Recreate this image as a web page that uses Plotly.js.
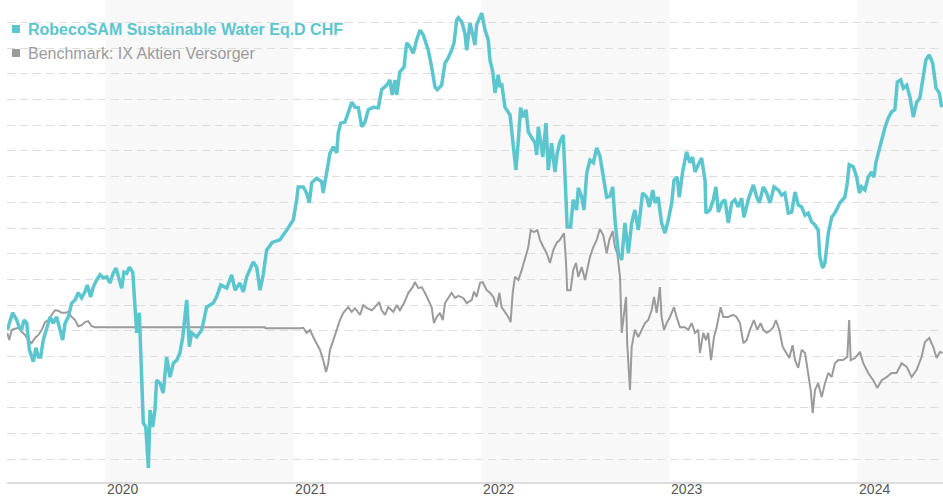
<!DOCTYPE html>
<html>
<head>
<meta charset="utf-8">
<script src="https://cdn.plot.ly/plotly-3.0.1.min.js"></script>
<style>
  html, body { margin: 0; padding: 0; background: #ffffff; }
  #chart { width: 943px; height: 500px; }
</style>
</head>
<body>
<div id="chart"></div>
<script>
// ---- data (performance in %, time as decimal year) ----
const fundName = "RobecoSAM Sustainable Water Eq.D CHF";
const benchName = "Benchmark: IX Aktien Versorger";

const fundDates = [
  2019.477,2019.505,2019.527,2019.540,2019.553,2019.565,2019.580,2019.594,2019.615,2019.629,
  2019.642,2019.654,2019.668,2019.686,2019.704,2019.721,2019.739,2019.757,2019.771,2019.784,
  2019.801,2019.819,2019.837,2019.854,2019.872,2019.890,2019.902,2019.920,2019.934,2019.952,
  2019.970,2019.987,2020.005,2020.023,2020.040,2020.055,2020.069,2020.085,2020.097,2020.112,
  2020.126,2020.144,2020.156,2020.165,2020.179,2020.191,2020.200,2020.213,2020.218,2020.227,
  2020.236,2020.250,2020.262,2020.271,2020.289,2020.306,2020.324,2020.342,2020.360,2020.378,
  2020.395,2020.410,2020.431,2020.445,2020.457,2020.484,2020.511,2020.537,2020.572,2020.590,
  2020.612,2020.644,2020.670,2020.688,2020.714,2020.732,2020.750,2020.785,2020.803,2020.821,
  2020.838,2020.856,2020.885,2020.927,2020.963,2020.998,2021.016,2021.024,2021.051,2021.069,
  2021.083,2021.096,2021.122,2021.149,2021.157,2021.176,2021.193,2021.211,2021.229,2021.237,
  2021.250,2021.273,2021.290,2021.309,2021.326,2021.344,2021.362,2021.379,2021.397,2021.423,
  2021.450,2021.468,2021.495,2021.512,2021.524,2021.539,2021.548,2021.565,2021.587,2021.601,
  2021.619,2021.636,2021.654,2021.672,2021.689,2021.716,2021.734,2021.752,2021.764,2021.787,
  2021.805,2021.822,2021.840,2021.853,2021.867,2021.876,2021.894,2021.911,2021.920,2021.938,
  2021.955,2021.964,2021.973,2021.991,2022.000,2022.018,2022.035,2022.044,2022.059,2022.071,
  2022.088,2022.097,2022.106,2022.124,2022.151,2022.165,2022.182,2022.195,2022.207,2022.221,
  2022.236,2022.248,2022.266,2022.284,2022.293,2022.301,2022.310,2022.325,2022.342,2022.354,
  2022.372,2022.390,2022.402,2022.416,2022.434,2022.448,2022.455,2022.473,2022.487,2022.505,
  2022.514,2022.532,2022.544,2022.559,2022.576,2022.594,2022.612,2022.629,2022.647,2022.665,
  2022.682,2022.697,2022.709,2022.727,2022.745,2022.762,2022.780,2022.798,2022.815,2022.833,
  2022.856,2022.878,2022.892,2022.910,2022.922,2022.939,2022.957,2022.975,2022.993,2023.011,
  2023.023,2023.040,2023.051,2023.069,2023.090,2023.108,2023.122,2023.135,2023.152,2023.170,
  2023.188,2023.193,2023.214,2023.232,2023.246,2023.259,2023.277,2023.294,2023.312,2023.330,
  2023.347,2023.365,2023.383,2023.395,2023.418,2023.445,2023.463,2023.477,2023.498,2023.516,
  2023.534,2023.555,2023.578,2023.596,2023.613,2023.631,2023.649,2023.667,2023.684,2023.702,
  2023.720,2023.737,2023.755,2023.773,2023.790,2023.799,2023.814,2023.826,2023.844,2023.862,
  2023.879,2023.906,2023.932,2023.945,2023.955,2023.977,2023.995,2024.009,2024.021,2024.039,
  2024.056,2024.074,2024.087,2024.097,2024.110,2024.128,2024.145,2024.163,2024.181,2024.198,
  2024.211,2024.229,2024.243,2024.261,2024.278,2024.296,2024.314,2024.331,2024.346,2024.363,
  2024.381,2024.399,2024.417,2024.434,2024.447
];
const fundValues = [
  0.2,3.5,2.1,0.7,0.2,2.1,1.5,-3.7,-6.0,-3.3,
  -5.1,-5.1,-1.8,0.7,2.7,1.5,2.7,0.2,-1.8,1.5,
  2.7,5.4,6.0,7.4,6.4,7.6,8.9,6.6,8.5,9.9,
  10.9,10.3,10.5,9.3,11.2,12.2,10.5,8.3,11.4,11.2,
  12.4,11.4,4.6,-0.4,3.5,-8.2,-17.9,-18.7,-22.6,-26.7,
  -15.4,-18.7,-15.4,-9.6,-10.2,-12.1,-5.1,-9.0,-6.3,-5.7,
  -4.3,-1.2,6.0,-3.1,-0.4,-1.2,0.2,4.6,5.4,6.6,
  8.9,8.3,10.9,7.9,9.3,7.6,10.5,13.4,12.4,7.9,
  10.9,15.7,17.2,17.7,19.6,21.6,25.5,28.0,28.0,26.8,
  24.9,28.8,29.7,29.0,26.8,30.7,34.6,35.8,34.6,38.5,
  40.4,40.6,42.4,44.5,43.5,43.4,39.7,40.6,43.0,43.5,
  43.4,46.9,47.8,48.8,45.9,48.8,45.9,50.4,51.3,56.0,
  55.2,54.0,56.6,58.5,57.6,54.6,51.3,47.4,46.9,47.8,
  52.1,53.1,54.6,56.0,60.5,60.9,60.1,57.9,54.6,59.9,
  57.2,55.6,59.5,61.1,61.8,58.5,56.6,52.7,50.4,46.3,
  49.8,47.4,48.2,43.5,42.0,37.1,31.3,37.1,43.4,41.6,
  43.0,38.7,37.7,36.5,34.2,39.7,37.7,33.8,40.4,31.3,
  36.5,30.9,34.6,36.7,38.1,28.0,20.2,20.2,25.5,23.5,
  27.8,26.0,23.5,30.7,33.2,32.7,35.6,34.0,30.3,26.0,
  26.2,28.0,21.6,15.1,13.8,21.0,15.1,21.0,23.5,19.6,
  26.8,26.0,24.1,27.4,24.9,26.0,21.0,19.0,21.6,24.9,
  29.3,29.9,26.0,30.9,34.8,32.7,33.8,30.9,32.3,33.6,
  29.3,22.9,23.5,25.5,28.0,23.1,24.9,25.5,21.0,24.9,
  25.5,24.1,25.8,22.1,25.5,28.4,26.0,24.9,28.0,26.8,
  24.9,28.0,27.4,26.4,26.8,22.9,23.1,27.0,24.5,24.1,
  22.5,22.9,21.2,20.6,19.6,14.4,12.2,13.2,19.0,22.1,
  22.9,24.9,26.0,28.8,32.3,31.9,29.9,26.8,28.0,27.4,
  29.9,30.9,29.9,32.7,34.6,37.5,39.5,41.4,42.6,43.0,
  48.4,48.8,47.2,47.8,45.5,41.6,44.5,45.3,48.8,52.7,
  53.7,52.1,47.2,46.3,43.5
];

const benchDates = [
  2019.477,2019.487,2019.500,2019.518,2019.535,2019.553,2019.571,2019.588,2019.606,2019.624,
  2019.642,2019.660,2019.677,2019.695,2019.713,2019.730,2019.748,2019.766,2019.784,2019.801,
  2019.819,2019.837,2019.854,2019.872,2019.890,2019.907,2019.926,2019.943,2020.847,2020.850,
  2021.034,2021.051,2021.069,2021.087,2021.104,2021.122,2021.140,2021.157,2021.172,2021.184,
  2021.193,2021.211,2021.229,2021.246,2021.264,2021.290,2021.309,2021.326,2021.353,2021.370,
  2021.391,2021.415,2021.432,2021.455,2021.468,2021.486,2021.503,2021.530,2021.548,2021.565,
  2021.587,2021.610,2021.633,2021.645,2021.663,2021.681,2021.698,2021.716,2021.734,2021.746,
  2021.761,2021.778,2021.793,2021.805,2021.822,2021.840,2021.858,2021.876,2021.902,2021.920,
  2021.947,2021.959,2021.973,2021.991,2022.005,2022.027,2022.044,2022.062,2022.080,2022.094,
  2022.106,2022.124,2022.142,2022.154,2022.165,2022.177,2022.195,2022.213,2022.230,2022.248,
  2022.261,2022.278,2022.296,2022.310,2022.328,2022.346,2022.363,2022.381,2022.399,2022.416,
  2022.438,2022.448,2022.455,2022.473,2022.487,2022.502,2022.514,2022.532,2022.550,2022.562,
  2022.576,2022.594,2022.612,2022.629,2022.647,2022.665,2022.679,2022.697,2022.709,2022.721,
  2022.736,2022.745,2022.757,2022.768,2022.774,2022.789,2022.798,2022.815,2022.833,2022.851,
  2022.869,2022.886,2022.904,2022.917,2022.931,2022.948,2022.957,2022.970,2022.984,2023.002,
  2023.023,2023.037,2023.055,2023.081,2023.099,2023.117,2023.135,2023.152,2023.161,2023.179,
  2023.193,2023.205,2023.220,2023.236,2023.250,2023.271,2023.285,2023.312,2023.338,2023.356,
  2023.374,2023.392,2023.410,2023.427,2023.448,2023.466,2023.484,2023.498,2023.516,2023.534,
  2023.551,2023.565,2023.583,2023.601,2023.619,2023.636,2023.654,2023.667,2023.684,2023.702,
  2023.720,2023.737,2023.750,2023.761,2023.773,2023.790,2023.809,2023.826,2023.844,2023.862,
  2023.879,2023.897,2023.923,2023.945,2023.955,2023.963,2023.986,2024.012,2024.030,2024.056,
  2024.083,2024.104,2024.128,2024.154,2024.181,2024.207,2024.234,2024.261,2024.287,2024.314,
  2024.340,2024.358,2024.381,2024.402,2024.420,2024.438,2024.452
];
const benchValues = [
  -0.4,-1.8,0.2,0.4,0.6,-0.2,-0.8,-1.8,-2.4,-1.4,
  -0.8,0.2,1.7,2.1,3.1,4.0,3.9,3.5,3.5,3.7,
  2.7,2.1,0.9,1.1,1.7,1.9,0.9,0.7,0.7,0.5,
  0.5,0.6,-0.4,0.2,-1.2,-2.4,-3.7,-5.7,-8.0,-6.3,
  -3.7,-1.8,0.2,2.1,3.5,4.6,3.7,4.4,3.1,5.0,
  4.4,4.0,4.6,5.6,4.0,3.1,4.6,3.7,5.0,4.0,
  5.4,7.4,8.5,9.5,8.3,8.5,7.4,6.0,4.6,1.5,
  2.7,3.5,2.1,5.4,6.4,7.4,6.4,6.8,6.4,5.4,
  6.0,7.6,6.6,9.3,9.5,7.9,7.4,6.6,4.6,7.4,
  4.6,3.7,2.7,1.7,7.4,10.5,9.9,11.8,13.8,16.3,
  19.6,19.2,19.6,17.7,16.3,15.1,13.2,15.7,17.1,17.7,
  19.0,13.8,7.9,7.9,11.8,13.2,10.5,12.4,9.9,11.8,
  14.4,16.3,17.7,19.8,18.6,15.1,17.7,19.4,16.3,15.1,
  10.5,-0.4,3.5,6.6,-2.4,-11.5,-3.1,0.2,-1.2,0.2,
  1.5,2.1,4.0,6.6,3.5,8.5,2.7,0.2,1.5,2.7,
  4.6,2.7,0.7,0.7,0.2,1.5,-0.4,0.2,-4.3,-0.4,
  -1.8,-0.4,-5.7,-1.2,0.7,4.6,2.7,2.7,3.1,2.7,
  1.5,-2.4,-1.8,0.2,2.1,0.2,1.5,0.2,-0.4,0.0,
  0.7,2.1,0.2,-3.1,-4.1,-5.3,-2.8,-5.7,-7.2,-3.7,
  -4.3,-8.2,-11.5,-16.0,-11.5,-10.2,-12.9,-10.2,-8.2,-9.0,
  -6.3,-5.7,-5.7,-5.1,2.1,-5.7,-5.3,-4.1,-6.3,-8.2,
  -9.6,-11.1,-9.6,-9.0,-8.2,-8.2,-6.3,-7.0,-9.0,-7.6,
  -5.1,-2.2,-1.4,-3.1,-5.3,-4.1,-4.3
];

const tickYears = [2020, 2021, 2022, 2023, 2024];
const tickLabels = ["2020", "2021", "2022", "2023", "2024"];
const shadedYears = [2020, 2022, 2024];

// ---- styling ----
const teal = "#5bc6ce";
const grey = "#9b9b9b";
const xMin = 2019.475, xMax = 2024.454;
const yMin = -29.41, yMax = 64.36;

const traces = [
  {
    x: benchDates, y: benchValues, type: "scatter", mode: "lines",
    name: benchName, line: { color: grey, width: 2 }, hoverinfo: "skip"
  },
  {
    x: fundDates, y: fundValues, type: "scatter", mode: "lines",
    name: fundName, line: { color: teal, width: 3.5 }, hoverinfo: "skip"
  }
];

const shapes = shadedYears.map(yr => ({
  type: "rect", xref: "x", yref: "paper",
  x0: yr, x1: Math.min(yr + 1, xMax), y0: 0, y1: 1,
  fillcolor: "#f8f8f8", line: { width: 0 }, layer: "below"
}));
// legend squares (paper coords)
shapes.push({ type: "rect", xref: "paper", yref: "paper",
  x0: 0.0053, x1: 0.0139, y0: 0.9315, y1: 0.9481,
  fillcolor: teal, line: { width: 0 }, layer: "above" });
shapes.push({ type: "rect", xref: "paper", yref: "paper",
  x0: 0.0053, x1: 0.0139, y0: 0.8817, y1: 0.8983,
  fillcolor: grey, line: { width: 0 }, layer: "above" });

const annotations = [
  { xref: "paper", yref: "paper", x: 0.0205, y: 0.9398, xanchor: "left", yanchor: "middle",
    text: "<b>" + fundName + "</b>", showarrow: false,
    font: { family: "Liberation Sans, Arial, sans-serif", size: 16, color: teal } },
  { xref: "paper", yref: "paper", x: 0.0205, y: 0.8900, xanchor: "left", yanchor: "middle",
    text: benchName, showarrow: false,
    font: { family: "Liberation Sans, Arial, sans-serif", size: 16, color: grey } }
];

const layout = {
  width: 943, height: 500,
  margin: { l: 7, r: 0, t: 0, b: 18, pad: 0 },
  paper_bgcolor: "#ffffff", plot_bgcolor: "rgba(0,0,0,0)",
  showlegend: false,
  font: { family: "Liberation Sans, Arial, sans-serif" },
  xaxis: {
    type: "linear", range: [xMin, xMax], fixedrange: true,
    tickvals: tickYears, ticktext: tickLabels,
    showgrid: false, zeroline: false,
    showline: true, linecolor: "#dcdcdc", linewidth: 2,
    ticks: "", ticklabelshift: 17, ticklabelstandoff: -7,
    tickfont: { family: "Liberation Sans, Arial, sans-serif", size: 14, color: "#555555" }
  },
  yaxis: {
    range: [yMin, yMax], fixedrange: true,
    tick0: 0, dtick: 5,
    showticklabels: false, ticks: "",
    showgrid: true, gridcolor: "#dddddd", gridwidth: 1, griddash: "8px,5px",
    zeroline: false, showline: false
  },
  shapes: shapes,
  annotations: annotations
};

Plotly.newPlot("chart", traces, layout, { displayModeBar: false, staticPlot: true });
</script>
</body>
</html>
